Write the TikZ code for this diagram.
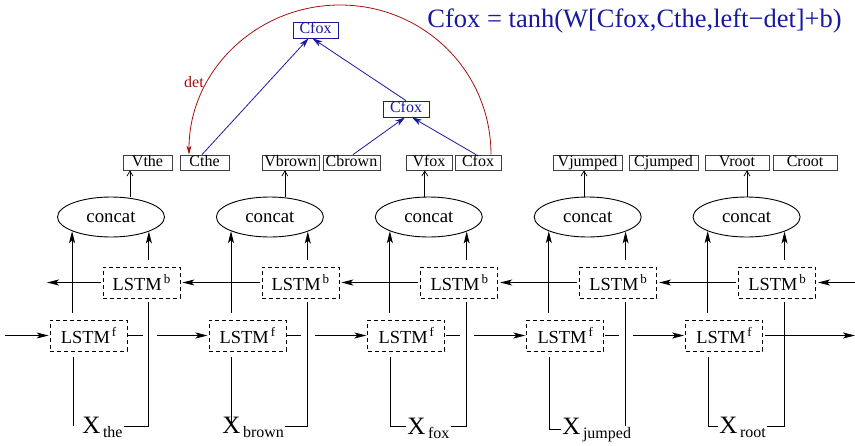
\documentclass[tikz,border=0pt]{standalone}
\usepackage{fontspec}
\setmainfont{Liberation Serif}
\usetikzlibrary{arrows.meta,shapes.geometric,calc}
\definecolor{dblue}{RGB}{25,25,160}
\definecolor{dred}{RGB}{165,15,15}
\newcommand{\myfs}[1]{\fontsize{#1}{#1}\selectfont}
\newcommand{\lstmtxt}[1]{LSTM\kern2pt\raisebox{7.5pt}{\myfs{13}#1}}
\newcommand{\xlbl}[1]{{\myfs{25}X}\kern2.5pt\raisebox{-4pt}{\myfs{16}#1}}
\begin{document}
\begin{tikzpicture}[x=1pt,y=-1pt, line width=0.9pt,
  lstmbox/.style={draw, dash pattern=on 4pt off 3pt, line width=0.8pt, minimum width=77pt, minimum height=31pt, inner sep=0pt, font=\myfs{18.4}},
  catnode/.style={draw, ellipse, minimum width=107pt, minimum height=40pt, inner sep=0pt, font=\myfs{18.8}},
  vcbox/.style={draw=black!75, line width=0.8pt, minimum height=15pt, inner sep=0pt, text height=10.5pt, text depth=3pt, font=\myfs{16}},
  treebox/.style={draw=dblue, text=dblue, line width=0.8pt, minimum height=16pt, inner sep=0pt, text height=10.5pt, text depth=3pt, font=\myfs{16}},
  xnode/.style={anchor=base west, inner sep=1pt},
  flowarrow/.style={-{Stealth[length=12pt,width=6pt,inset=3pt]}},
  stick/.style={-{Straight Barb[length=5pt,width=6pt]}, line width=0.7pt},
  treearrow/.style={dblue, line width=0.8pt, -{Stealth[length=10pt,width=6pt,inset=3pt]}},
  deparc/.style={dred, line width=0.8pt, -{Stealth[length=9pt,width=5pt,inset=2.5pt]}},
]
\useasboundingbox (0,0) rectangle (855,445);

% LSTM boxes
\node[lstmbox] (f1) at (88.5,335.5) {\lstmtxt{f}};
\node[lstmbox] (f2) at (247.4,335.5) {\lstmtxt{f}};
\node[lstmbox] (f3) at (406.3,335.5) {\lstmtxt{f}};
\node[lstmbox] (f4) at (565.2,335.5) {\lstmtxt{f}};
\node[lstmbox] (f5) at (724.1,335.5) {\lstmtxt{f}};
\node[lstmbox] (b1) at (141.5,282.5) {\lstmtxt{b}};
\node[lstmbox] (b2) at (300.4,282.5) {\lstmtxt{b}};
\node[lstmbox] (b3) at (459.3,282.5) {\lstmtxt{b}};
\node[lstmbox] (b4) at (618.2,282.5) {\lstmtxt{b}};
\node[lstmbox] (b5) at (777.1,282.5) {\lstmtxt{b}};

% concat
\node[catnode] (c1) at (111,217) {concat};
\node[catnode] (c2) at (269.9,217) {concat};
\node[catnode] (c3) at (428.8,217) {concat};
\node[catnode] (c4) at (587.7,217) {concat};
\node[catnode] (c5) at (746.6,217) {concat};

% V / C boxes
\node[vcbox, minimum width=49pt] (vthe) at (147.5,162.5) {Vthe};
\node[vcbox, minimum width=49pt] (cthe) at (204.5,162.5) {Cthe};
\node[vcbox, minimum width=57pt] (vbrown) at (290.5,162.5) {Vbrown};
\node[vcbox, minimum width=57pt] (cbrown) at (351.5,162.5) {Cbrown};
\node[vcbox, minimum width=46pt] (vfox) at (429,162.5) {Vfox};
\node[vcbox, minimum width=46pt] (cfox) at (478,162.5) {Cfox};
\node[vcbox, minimum width=69pt] (vjumped) at (587.5,162.5) {Vjumped};
\node[vcbox, minimum width=69pt] (cjumped) at (663.5,162.5) {Cjumped};
\node[vcbox, minimum width=64pt] (vroot) at (737,162.5) {Vroot};
\node[vcbox, minimum width=64pt] (croot) at (805,162.5) {Croot};

% tree boxes
\node[treebox, minimum width=45pt] (topc) at (315.5,30) {Cfox};
\node[treebox, minimum width=46pt] (midc) at (406,109) {Cfox};

% title and label
\node[anchor=base west, inner sep=0pt, text=dblue, font=\myfs{26.5}] (title) at (427,27) {Cfox = tanh(W[Cfox,Cthe,left−det]+b)};
\node[anchor=base, inner sep=0pt, text=dred, font=\myfs{16}] (detlab) at (194,87) {det};

% inputs
\node[xnode] (x1) at (81,433) {\xlbl{the}};
\node[xnode] (x2) at (221,433) {\xlbl{brown}};
\node[xnode] (x3) at (406,434) {\xlbl{fox}};
\node[xnode] (x4) at (561,434) {\xlbl{jumped}};
\node[xnode] (x5) at (718,433) {\xlbl{root}};

% line corner coordinates
\coordinate (fl1) at (73,426);
\coordinate (fl2) at (231.9,426);
\coordinate (fl3) at (390.8,426);
\coordinate (fl4) at (549.7,429);
\coordinate (fl5) at (708.6,426);
\coordinate (bl1) at (148.5,426);
\coordinate (bl2) at (307.4,426);
\coordinate (bl3) at (466.3,426);
\coordinate (bl4) at (625.2,426);
\coordinate (bl5) at (784.1,426);
\coordinate (bleft) at (47,282.5);
\coordinate (bright) at (855,282.5);
\coordinate (fleft) at (5,335.5);
\coordinate (fright) at (855,335.5);
\coordinate (arctop) at (340,5);

% LSTM to concat
\draw[flowarrow] ($(c1.200 |- f1.north)+(0,-7)$) -- (c1.200);
\draw[flowarrow] ($(c2.200 |- f2.north)+(0,-7)$) -- (c2.200);
\draw[flowarrow] ($(c3.200 |- f3.north)+(0,-7)$) -- (c3.200);
\draw[flowarrow] ($(c4.200 |- f4.north)+(0,-7)$) -- (c4.200);
\draw[flowarrow] ($(c5.200 |- f5.north)+(0,-7)$) -- (c5.200);
\draw[flowarrow] ($(c1.339 |- b1.north)+(0,-7)$) -- (c1.339);
\draw[flowarrow] ($(c2.339 |- b2.north)+(0,-7)$) -- (c2.339);
\draw[flowarrow] ($(c3.339 |- b3.north)+(0,-7)$) -- (c3.339);
\draw[flowarrow] ($(c4.339 |- b4.north)+(0,-7)$) -- (c4.339);
\draw[flowarrow] ($(c5.339 |- b5.north)+(0,-7)$) -- (c5.339);

% concat to V
\draw[stick] ($(c1.north)+(19,0)$) -- ($(c1.north |- vthe.south)+(19,0)$);
\draw[stick] ($(c2.north)+(15,0)$) -- ($(c2.north |- vbrown.south)+(15,0)$);
\draw[stick] ($(c3.north)+(-4,0)$) -- ($(c3.north |- vfox.south)+(-4,0)$);
\draw[stick] ($(c4.north)+(-3.7,0)$) -- ($(c4.north |- vjumped.south)+(-3.7,0)$);
\draw[stick] ($(c5.north)+(0.4,0)$) -- ($(c5.north |- vroot.south)+(0.4,0)$);

% inputs to forward LSTMs
\draw ($(f1.south -| fl1)+(0,6)$) -- (fl1);
\draw ($(f2.south -| fl2)+(0,6)$) -- (fl2);
\draw ($(f3.south -| fl3)+(0,6)$) -- (fl3) -- (x3.west |- fl3);
\draw ($(f4.south -| fl4)+(0,6)$) -- (fl4) -- (x4.west |- fl4);
\draw ($(f5.south -| fl5)+(0,6)$) -- (fl5) -- (x5.west |- fl5);

% inputs to backward LSTMs
\draw (x1.east |- bl1) -- (bl1) -- ($(b1.south -| bl1)+(0,4)$);
\draw (x2.east |- bl2) -- (bl2) -- ($(b2.south -| bl2)+(0,4)$);
\draw (x3.east |- bl3) -- (bl3) -- ($(b3.south -| bl3)+(0,4)$);
\draw (bl4) -- ($(b4.south -| bl4)+(0,4)$);
\draw (x5.east |- bl5) -- (bl5) -- ($(b5.south -| bl5)+(0,4)$);

% backward chain
\draw[flowarrow, shorten <=2pt] (b1.west) -- (bleft);
\draw[flowarrow, shorten <=2pt, shorten >=2pt] (b2.west) -- (b1.east);
\draw[flowarrow, shorten <=2pt, shorten >=2pt] (b3.west) -- (b2.east);
\draw[flowarrow, shorten <=2pt, shorten >=2pt] (b4.west) -- (b3.east);
\draw[flowarrow, shorten <=2pt, shorten >=2pt] (b5.west) -- (b4.east);
\draw[flowarrow, shorten >=2pt] (bright) -- (b5.east);

% forward chain
\draw[flowarrow, shorten >=1pt] (fleft) -- (f1.west);
\draw[shorten <=1pt] (f1.east) -- ($(f1.east -| bl1)+(-6,0)$);
\draw[flowarrow, shorten >=1pt] ($(f1.east -| bl1)+(8,0)$) -- (f2.west);
\draw[shorten <=1pt] (f2.east) -- ($(f2.east -| bl2)+(-6,0)$);
\draw[flowarrow, shorten >=1pt] ($(f2.east -| bl2)+(8,0)$) -- (f3.west);
\draw[shorten <=1pt] (f3.east) -- ($(f3.east -| bl3)+(-6,0)$);
\draw[flowarrow, shorten >=1pt] ($(f3.east -| bl3)+(8,0)$) -- (f4.west);
\draw[shorten <=1pt] (f4.east) -- ($(f4.east -| bl4)+(-6,0)$);
\draw[flowarrow, shorten >=1pt] ($(f4.east -| bl4)+(8,0)$) -- (f5.west);
\draw[flowarrow, shorten <=2pt] (f5.east) -- (fright);

% tree arrows
\draw[treearrow] ([xshift=-2.5pt]cthe.north) -- ([xshift=-7pt]topc.south);
\draw[treearrow] (midc.north) -- ([xshift=-3pt]topc.south);
\draw[treearrow] ([xshift=1.5pt]cbrown.north) -- ([xshift=-1pt]midc.south);
\draw[treearrow] ([xshift=-2pt]cfox.north) -- ([xshift=6pt]midc.south);

% dependency arc
\draw[deparc] ([xshift=13pt]cfox.north) .. controls +(0,-84) and +(83,0) .. (arctop) .. controls +(-83,0) and +(0,-84) .. ([xshift=-15.5pt]cthe.north);
\end{tikzpicture}
\end{document}
